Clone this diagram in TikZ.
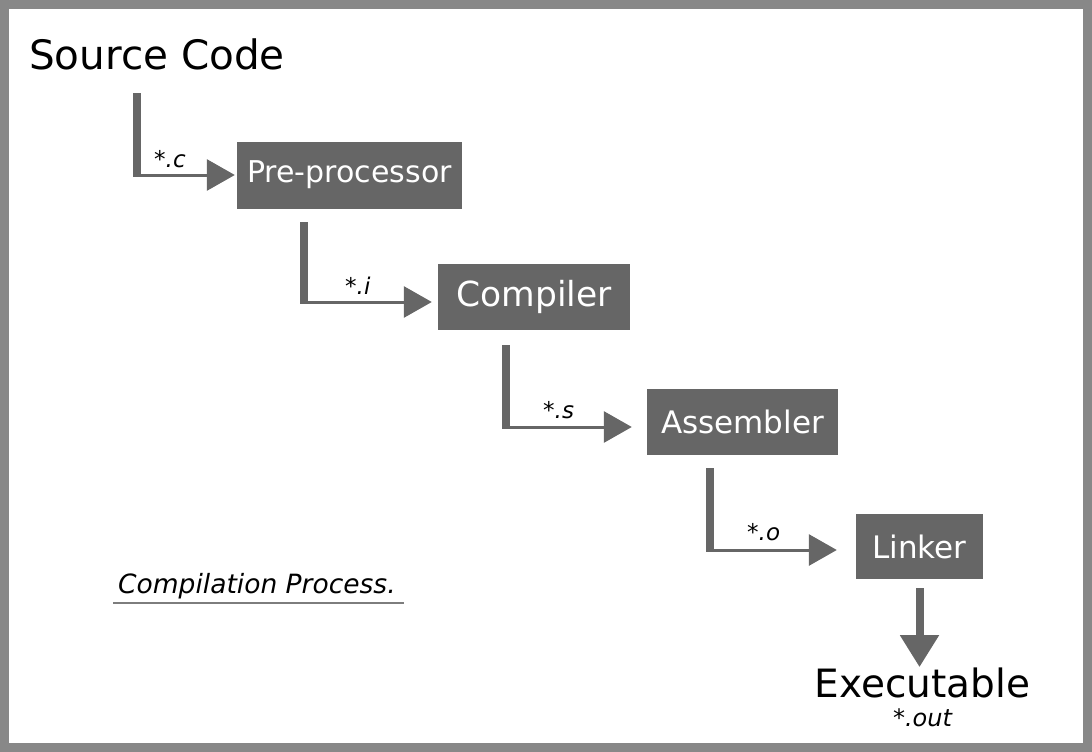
\documentclass[tikz,border=0pt]{standalone}
\usepackage{fontspec}
\setmainfont{DejaVu Sans}
\usetikzlibrary{arrows.meta, positioning, calc}
\definecolor{boxgray}{HTML}{666666}
\definecolor{framegray}{HTML}{888888}
\tikzset{
	stage/.style={fill=boxgray, text=white, inner sep=0pt},
	bar/.style={draw=boxgray, line width=8pt, shorten >=-2pt},
	feed/.style={draw=boxgray, line width=3pt, -{Triangle[length=28pt,width=31pt]}},
	ext/.style={anchor=base west, inner sep=0pt, font=\itshape\fontsize{23}{28}\selectfont},
}

\begin{document}
\begin{tikzpicture}[x=1pt,y=-1pt]
				%frame
				\useasboundingbox (0,0) rectangle (1092,752);
				\draw [framegray, line width=9pt] (4.5,4.5) rectangle (1087.5,747.5);
				
				%nodes
				\draw (29,70) node [anchor=base west, inner sep=0pt, font=\fontsize{40.5}{48}\selectfont] (src) {Source Code};
				\draw (349.5,175) node [stage, minimum width=225pt, minimum height=67pt, font=\fontsize{30}{36}\selectfont] (pre) {Pre-processor};
				\draw (534,297) node [stage, minimum width=192pt, minimum height=66pt, font=\fontsize{34.5}{41}\selectfont] (comp) {Compiler};
				\draw (742.5,422) node [stage, minimum width=191pt, minimum height=66pt, font=\fontsize{31}{37}\selectfont] (asm) {Assembler};
				\draw (919.5,546.5) node [stage, minimum width=127pt, minimum height=65pt, font=\fontsize{31}{37}\selectfont] (link) {Linker};
				\draw (922.5,697) node [anchor=base, inner sep=0pt, font=\fontsize{39}{46}\selectfont] (exe) {Executable};
				\draw (922.5,726) node [anchor=base, inner sep=0pt, font=\itshape\fontsize{24}{29}\selectfont] (out) {*.out};
				
				%connectors
				\coordinate (t1) at (136.5,93);  \coordinate (c1) at (136.5,175);
				\coordinate (t2) at (304,222);   \coordinate (c2) at (304,302);
				\coordinate (t3) at (506,345);   \coordinate (c3) at (506,427);
				\coordinate (t4) at (710,468);   \coordinate (c4) at (710,550);
				\draw [bar] (t1) -- (c1);
				\draw [feed, shorten >=2pt] (c1) -- (c1 -| pre.west);
				\draw [bar] (t2) -- (c2);
				\draw [feed, shorten >=6pt] (c2) -- (c2 -| comp.west);
				\draw [bar] (t3) -- (c3);
				\draw [feed, shorten >=15pt] (c3) -- (c3 -| asm.west);
				\draw [bar] (t4) -- (c4);
				\draw [feed, shorten >=19pt] (c4) -- (c4 -| link.west);
				\draw [draw=boxgray, line width=8pt, shorten <=9pt, -{Triangle[length=32pt,width=37pt]}] (link.south) -- (link.south |- exe.north);
				
				%labels
				\draw (154,167) node [ext] (lc) {*.c};
				\draw (345,294) node [ext] (li) {*.i};
				\draw (543,418) node [ext] (ls) {*.s};
				\draw (747,540) node [ext] (lo) {*.o};
				\draw (118,593) node [anchor=base west, inner sep=0pt, font=\itshape\fontsize{26.5}{32}\selectfont] (cap) {Compilation Process.};
				\draw [boxgray!85, line width=2pt] ($(cap.south west)+(-5,4)$) -- ($(cap.south east)+(8,4)$);
\end{tikzpicture}
\end{document}
